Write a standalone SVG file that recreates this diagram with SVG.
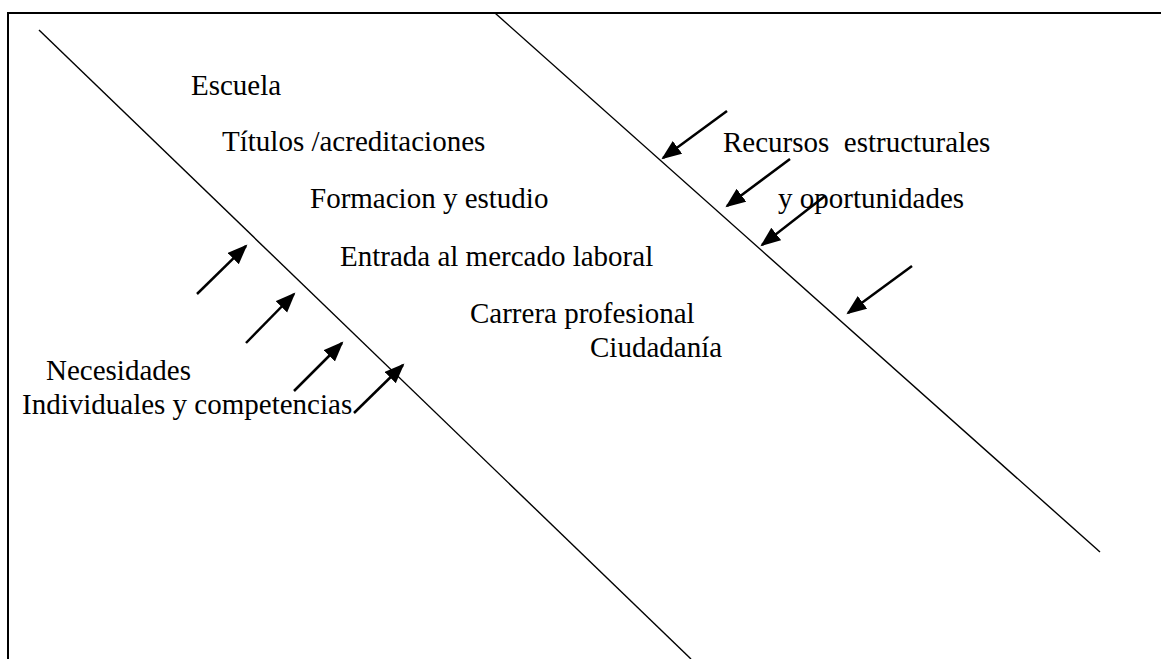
<svg xmlns="http://www.w3.org/2000/svg" width="1161" height="659" viewBox="0 0 1161 659">
  <style>
    .t { font-family: "Liberation Serif", "Times New Roman", serif; font-size: 29px; fill: #000; white-space: pre; }
    .ln { stroke: #000; stroke-width: 1.4; fill: none; }
    .ar { stroke: #000; stroke-width: 2.5; fill: none; marker-end: url(#ah); }
    .bd { stroke: #000; stroke-width: 2; fill: none; }
  </style>
  <defs>
    <marker id="ah" markerUnits="userSpaceOnUse" markerWidth="22" markerHeight="18" refX="18" refY="8" orient="auto">
      <path d="M0,0 L20,8 L0,16 z" fill="#000"/>
    </marker>
  </defs>
  <rect width="1161" height="659" fill="#fff"/>
  <g id="frame">
    <path class="bd" d="M8,659 L8,13 L1161,13"/>
  </g>
  <g id="connectors">
    <line class="ln" x1="39" y1="30" x2="691" y2="659"/>
    <line class="ln" x1="495" y1="13" x2="1100" y2="552"/>
    <line class="ar" x1="197" y1="294" x2="246" y2="246"/>
    <line class="ar" x1="246" y1="343" x2="294" y2="294"/>
    <line class="ar" x1="294" y1="391" x2="342" y2="343"/>
    <line class="ar" x1="354" y1="413" x2="403" y2="365"/>
    <line class="ar" x1="727" y1="111" x2="663" y2="158"/>
    <line class="ar" x1="790" y1="159" x2="727" y2="206"/>
    <line class="ar" x1="825" y1="196" x2="762" y2="245"/>
    <line class="ar" x1="912" y1="266" x2="848" y2="313"/>
  </g>
  <g id="escuela"><text class="t" x="191" y="95">Escuela</text></g>
  <g id="titulos"><text class="t" x="222" y="151">Títulos /acreditaciones</text></g>
  <g id="formacion"><text class="t" x="310" y="208">Formacion y estudio</text></g>
  <g id="entrada"><text class="t" x="340" y="266">Entrada al mercado laboral</text></g>
  <g id="carrera"><text class="t" x="470" y="323">Carrera profesional</text></g>
  <g id="ciudadania"><text class="t" x="590" y="357">Ciudadanía</text></g>
  <g id="necesidades"><text class="t" x="46" y="380">Necesidades</text></g>
  <g id="individuales"><text class="t" x="22" y="414">Individuales y competencias</text></g>
  <g id="recursos"><text class="t" x="723" y="152">Recursos  estructurales</text></g>
  <g id="oportunidades"><text class="t" x="778" y="208">y oportunidades</text></g>
</svg>
